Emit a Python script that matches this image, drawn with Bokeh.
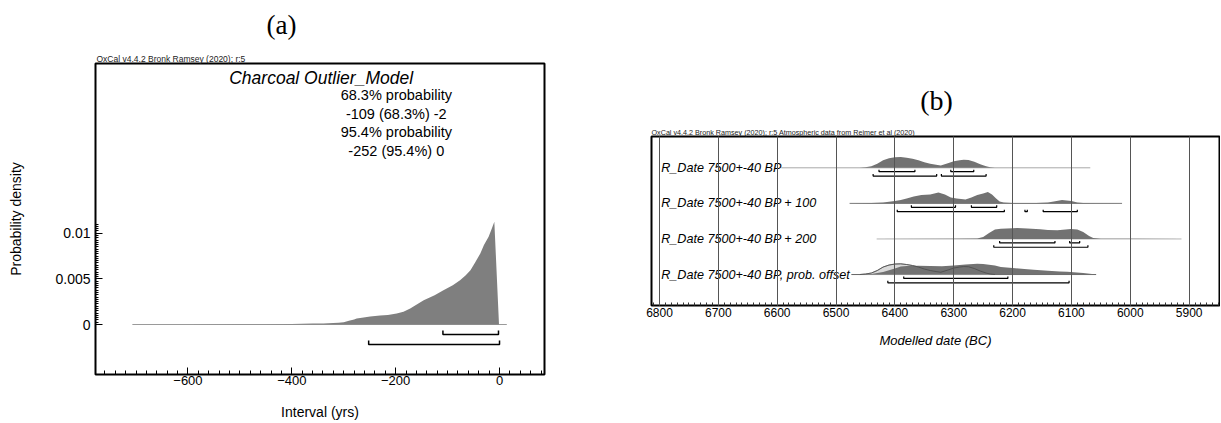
from bokeh.plotting import figure
from bokeh.models import Range1d, FixedTicker, Label, Title
from bokeh.layouts import row, column
from bokeh.embed import file_html
from bokeh.resources import INLINE
from bokeh.core.properties import value

SANS = "Liberation Sans"
SERIF = "Liberation Serif"

# ---------------- Panel (a) data ----------------
a_interval = [-707, -600, -500, -450, -400, -360, -339, -330, -310, -300, -290, -280,
              -275, -265, -249, -230, -215, -198, -185, -172, -146, -125, -108, -90,
              -76, -65, -56, -47, -37, -30, -21, -15, -10, -1]
a_density = [0, 0.00001, 0.00002, 0.00004, 0.00006, 0.0001, 0.00011, 0.00015, 0.0002,
             0.00025, 0.0004, 0.00055, 0.00066, 0.00075, 0.00088, 0.00098, 0.00105,
             0.0012, 0.0014, 0.00175, 0.00266, 0.0032, 0.00376, 0.0043, 0.00485,
             0.0054, 0.00595, 0.0068, 0.00778, 0.0087, 0.0096, 0.0105, 0.01125, 0]
a_extent = [-707, 14]
a_range_68 = [(-109, -2)]
a_range_95 = [(-252, 0)]
a_xticks = [-600, -400, -200, 0]
a_xminor = list(range(-760, 81, 20))
a_yticks = [0, 0.005, 0.01]
a_yminor = [i * 0.00025 for i in range(0, 45)]
a_ylabels = {0: "0", 0.005: "0.005", 0.01: "0.01"}
a_stats = ["68.3% probability", "-109 (68.3%) -2", "95.4% probability", "-252 (95.4%) 0"]

# ---------------- Panel (b) data ----------------
b_labels = ["R_Date 7500+-40 BP", "R_Date 7500+-40 BP + 100",
            "R_Date 7500+-40 BP + 200", "R_Date 7500+-40 BP, prob. offset"]
b_extent = [(6593, 6068), (6477, 6014), (6431, 5913), (6474, 6058)]
b_line_colors = ["#a8a8a8", "#7a7a7a", "#b4b4b4", "#666666"]

r1_date = [6460, 6450, 6440, 6430, 6420, 6410, 6400, 6390, 6380, 6370, 6360, 6350, 6340,
           6330, 6322, 6310, 6300, 6290, 6283, 6275, 6265, 6255, 6245, 6238, 6230]
r1_prob = [0, 0.5, 1.5, 4, 7.5, 9.5, 10.5, 10.7, 10, 9, 7.5, 5.5, 4, 3, 2.3, 4.5, 6.5,
           7.5, 8, 7.8, 6, 3.5, 1.5, 0.5, 0]
r2_date = [6477, 6440, 6420, 6400, 6390, 6380, 6368, 6355, 6340, 6326, 6315, 6305, 6295,
           6280, 6270, 6260, 6250, 6242, 6235, 6228, 6222, 6215, 6200, 6160, 6140, 6130,
           6116, 6100, 6090, 6080, 6060, 6014]
r2_prob = [0, 0.3, 1, 2.5, 3.3, 5, 7, 8.5, 9, 11, 9, 6, 5, 4, 6, 8.5, 10, 11.3, 9, 5, 2,
           0.8, 0.4, 0.3, 0.8, 2, 3.3, 2.5, 1, 0.3, 0.1, 0]
r3_date = [6431, 6300, 6260, 6250, 6240, 6230, 6220, 6200, 6192, 6175, 6153, 6140, 6124,
           6110, 6101, 6090, 6080, 6070, 6063, 6050, 6000, 5913]
r3_prob = [0, 0.1, 0.5, 2, 6, 9.5, 10.3, 10.7, 11, 10.5, 9.7, 9, 8.7, 9.5, 10, 9.5, 7, 3,
           1, 0.3, 0.1, 0]
r4_date = [6474, 6440, 6420, 6400, 6390, 6380, 6360, 6340, 6320, 6300, 6280, 6260, 6250,
           6230, 6220, 6200, 6180, 6164, 6140, 6120, 6107, 6080, 6065, 6058]
r4_prob = [0, 0.5, 2.5, 6, 8, 8.5, 8.8, 8.5, 8.3, 9, 10, 10.7, 10.5, 9, 7.5, 6.5, 5.5,
           4.7, 3.8, 3, 2.7, 1.5, 0.5, 0]

b_range_68 = [[(6427, 6366), (6305, 6266)],
              [(6372, 6297), (6270, 6227)],
              [(6222, 6128), (6103, 6086)],
              [(6385, 6208)]]
b_range_95 = [[(6437, 6329), (6321, 6245)],
              [(6396, 6214), (6179, 6175), (6148, 6090)],
              [(6232, 6072)],
              [(6412, 6104)]]
b_xticks = [6800, 6700, 6600, 6500, 6400, 6300, 6200, 6100, 6000, 5900]
b_xminor = list(range(5850, 6811, 10))


def bracket_lines(ranges, y, tick):
    xs, ys = [], []
    for s, e in ranges:
        xs.append([s, s, e, e])
        ys.append([y + tick, y, y, y + tick])
    return xs, ys


# ================= Panel (a) =================
pa = figure(width=608, height=423, output_backend="svg", toolbar_location=None,
            x_range=Range1d(-778, 86.6), y_range=Range1d(-0.005476, 0.02859),
            min_border_left=95, min_border_right=64, min_border_top=63,
            min_border_bottom=49)
pa.xgrid.visible = False
pa.ygrid.visible = False
pa.outline_line_color = "black"
pa.outline_line_width = 2
pa.outline_line_alpha = 1

xa = pa.xaxis[0]
xa.ticker = FixedTicker(ticks=a_xticks, minor_ticks=a_xminor)
xa.axis_line_color = None
xa.major_tick_in = 7
xa.major_tick_out = 0
xa.minor_tick_in = 4
xa.minor_tick_out = 0
xa.major_tick_line_color = "black"
xa.minor_tick_line_color = "black"
xa.major_label_text_font = SANS
xa.major_label_text_font_size = "13px"
xa.major_label_text_color = "black"
xa.major_label_standoff = 1
xa.axis_label = "Interval (yrs)"
xa.axis_label_text_font = SANS
xa.axis_label_text_font_size = "14px"
xa.axis_label_text_font_style = "normal"
xa.axis_label_text_color = "black"
xa.axis_label_standoff = 16

ya = pa.yaxis[0]
ya.ticker = FixedTicker(ticks=a_yticks, minor_ticks=a_yminor)
ya.major_label_overrides = a_ylabels
ya.axis_line_color = None
ya.major_tick_in = 7
ya.major_tick_out = 0
ya.minor_tick_in = 3
ya.minor_tick_out = 0
ya.major_tick_line_color = "black"
ya.minor_tick_line_color = "black"
ya.major_label_text_font = SANS
ya.major_label_text_font_size = "14px"
ya.major_label_text_color = "black"
ya.major_label_standoff = 5
ya.axis_label = "Probability density"
ya.axis_label_text_font = SANS
ya.axis_label_text_font_size = "14px"
ya.axis_label_text_font_style = "normal"
ya.axis_label_text_color = "black"
ya.axis_label_standoff = 28

pa.line(x=a_extent, y=[0, 0], line_color="#9a9a9a", line_width=1)
pa.varea(x=a_interval, y1=0, y2=a_density, fill_color="#7f7f7f")
for rng, yb in ((a_range_68, -0.0011), (a_range_95, -0.00219)):
    xs, ys = bracket_lines(rng, yb, 0.00044)
    pa.multi_line(xs=xs, ys=ys, line_color="black", line_width=1.5)

# titles above the frame (first added = closest to frame)
pa.add_layout(Title(text="OxCal v4.4.2 Bronk Ramsey (2020); r:5", align="left", offset=1,
                    standoff=0, vertical_align="bottom", text_font=SANS,
                    text_font_size="8.5px", text_font_style="normal",
                    text_color="#222222"), "above")
pa.add_layout(Title(text="(a)", align="left", offset=171, standoff=19,
                    vertical_align="top", text_font=SERIF, text_font_size="27px",
                    text_font_style="normal", text_color="black"), "above")

pa.add_layout(Label(x=-343.5, y=0.02704, text="Charcoal Outlier_Model", text_font=SANS,
                    text_font_size="17.5px", text_font_style="italic", text_align="center",
                    text_baseline="middle", text_color="black"))
for txt, yv in zip(a_stats, [0.02519, 0.02311, 0.02108, 0.01906]):
    pa.add_layout(Label(x=-198.8, y=yv, text=txt, text_font=SANS, text_font_size="14.5px",
                        text_align="center", text_baseline="middle", text_color="black"))

# ================= Panel (b) =================
pb = figure(width=612, height=423, output_backend="svg", toolbar_location=None,
            x_range=Range1d(6813.6, 5848.4), y_range=Range1d(3.87, -0.88),
            min_border_left=43, min_border_right=1, min_border_top=136,
            min_border_bottom=118)
pb.yaxis.visible = False
pb.ygrid.visible = False
pb.outline_line_color = "black"
pb.outline_line_width = 2
pb.outline_line_alpha = 1

xb = pb.xaxis[0]
xb.ticker = FixedTicker(ticks=b_xticks, minor_ticks=b_xminor)
xb.axis_line_color = None
xb.major_tick_in = 6
xb.major_tick_out = 0
xb.minor_tick_in = 3
xb.minor_tick_out = 0
xb.major_tick_line_color = "black"
xb.minor_tick_line_color = "#333333"
xb.major_label_text_font = SANS
xb.major_label_text_font_size = "12px"
xb.major_label_text_color = "black"
xb.major_label_standoff = 2
xb.axis_label = "Modelled date (BC)"
xb.axis_label_text_font = SANS
xb.axis_label_text_font_size = "13px"
xb.axis_label_text_font_style = "italic"
xb.axis_label_text_color = "black"
xb.axis_label_standoff = 13

pb.xgrid.ticker = FixedTicker(ticks=b_xticks)
pb.xgrid.grid_line_color = "#555555"
pb.xgrid.grid_line_width = 1
pb.xgrid.level = "overlay"

scale = 1 / 35.57
rows = [0, 1, 2, 3]
dates = [r1_date, r2_date, r3_date, r4_date]
probs = [r1_prob, r2_prob, r3_prob, r4_prob]

for i in rows:
    pb.line(x=list(b_extent[i]), y=[i, i], line_color=b_line_colors[i], line_width=1)

# prior (unmodelled) shown in light grey for the offset row
prior_y = [3 - v * scale for v in r1_prob]
pb.varea(x=r1_date, y1=3, y2=prior_y, fill_color="#dadada")
pb.line(x=r1_date, y=prior_y, line_color="#9a9a9a", line_width=1)

for i in rows:
    pb.varea(x=dates[i], y1=i, y2=[i - v * scale for v in probs[i]], fill_color="#727272")

pb.line(x=r1_date, y=prior_y, line_color="#4a4a4a", line_width=0.9, line_alpha=0.9)

for i in rows:
    for rng, off in ((b_range_68[i], 0.11), (b_range_95[i], 0.233)):
        xs, ys = bracket_lines(rng, i + off, -0.056)
        pb.multi_line(xs=xs, ys=ys, line_color="black", line_width=1.2)

pb.text(x=[6797] * 4, y=rows, text=b_labels, text_font=value(SANS),
        text_font_style="italic", text_font_size="12.6px", text_align="left",
        text_baseline="middle", text_color="black")

pb.add_layout(Title(text="OxCal v4.4.2 Bronk Ramsey (2020); r:5 Atmospheric data from Reimer et al (2020)",
                    align="left", offset=0, standoff=0, vertical_align="bottom",
                    text_font=SANS, text_font_size="7.2px", text_font_style="normal",
                    text_color="#222222"), "above")
pb.add_layout(Title(text="(b)", align="left", offset=268.7, standoff=19,
                    vertical_align="bottom", text_font=SERIF, text_font_size="28px",
                    text_font_style="normal", text_color="black"), "above")

p = row(column(pa), column(pb))
open("out.html", "w").write(file_html(p, INLINE))
